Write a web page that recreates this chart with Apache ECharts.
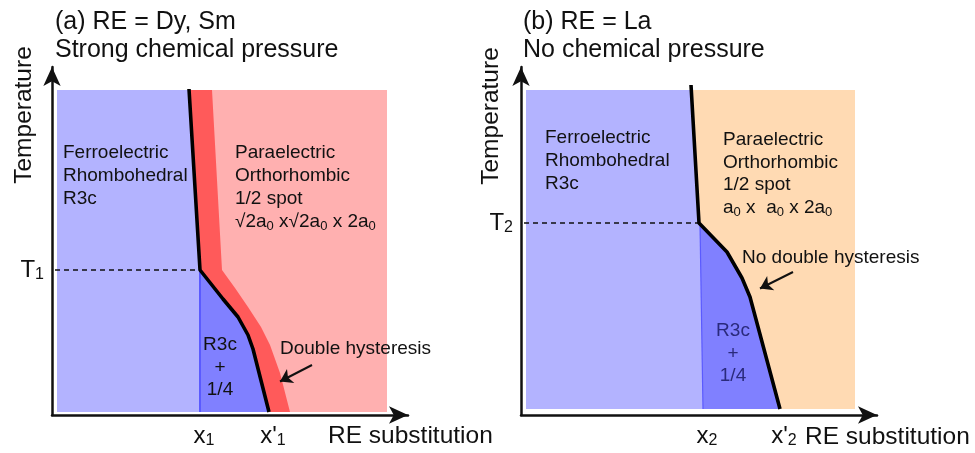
<!DOCTYPE html>
<html>
<head>
<meta charset="utf-8">
<script src="https://cdn.jsdelivr.net/npm/echarts@6/dist/echarts.min.js"></script>
<style>
  html, body { margin: 0; padding: 0; background: #fff; }
  #chart { width: 975px; height: 453px; }
</style>
</head>
<body>
<div id="chart"></div>
<script>
// Schematic phase diagrams: temperature vs. RE substitution (arbitrary units)

// (a) RE = Dy, Sm
const fieldA = { x0: 5, x1: 335, y0: 3, y1: 325 };
const boundaryA = [[137, 326], [148, 145], [171, 116], [186, 98], [196, 80], [201, 66], [217, 3]];
const bandEdgeA = [[160, 325], [170, 145], [183, 127], [196, 108], [209, 88], [218, 70], [228, 42], [238, 3]];
const tempA = 145;                       // T1
const xTicksA = [148, 217];              // x1, x'1
const xTickLabelsA = ['x|1', "x'|1"];
const yTicksA = [145];
const yTickLabelsA = ['T|1'];
const pointerA = [[260, 50], [228, 33.5]];

// (b) RE = La
const fieldB = { x0: 5, x1: 334, y0: 6, y1: 325 };
const boundaryB = [[170, 330], [178, 192], [206, 163], [221, 137], [229, 118], [259, 6]];
const mixedEdgeB = [[179, 192], [182, 6]];
const tempB = 192;                       // T2
const xTicksB = [182, 259];              // x2, x'2
const xTickLabelsB = ['x|2', "x'|2"];
const yTicksB = [192];
const yTickLabelsB = ['T|2'];
const pointerB = [[272, 143], [239, 126.5]];

const FONT = '"Liberation Sans", Arial, sans-serif';
const INK = '#111';
const C = {
  ferro: '#b3b3ff',
  mixed: '#8080ff',
  mixedEdge: '#5a5aff',
  band: '#ff5a5a',
  paraA: '#ffb0b0',
  paraB: '#ffdab3'
};

// x of a polyline at a given y (linear interpolation)
function xAt(line, y) {
  for (let i = 0; i < line.length - 1; i++) {
    const [xa, ya] = line[i], [xb, yb] = line[i + 1];
    if ((y - ya) * (y - yb) <= 0 && ya !== yb) return xa + (xb - xa) * (y - ya) / (yb - ya);
  }
  return line[0][0];
}
// part of a polyline below yTop, starting at its crossing with yTop
function below(line, yTop) {
  return [[xAt(line, yTop), yTop], ...line.filter(p => p[1] < yTop)];
}

function polygon(idx, pts, color, z) {
  return {
    type: 'custom', xAxisIndex: idx, yAxisIndex: idx, z: z, silent: true,
    data: [[0, 0]],
    renderItem: (params, api) => ({
      type: 'polygon',
      shape: { points: pts.map(p => api.coord(p)) },
      style: { fill: color }
    })
  };
}
function line(idx, pts, style, z, extra) {
  return Object.assign({
    type: 'line', xAxisIndex: idx, yAxisIndex: idx, z: z, silent: true,
    data: pts, symbol: 'none', lineStyle: style
  }, extra || {});
}
function pointer(pts) {
  return {
    silent: true, symbol: ['none', 'arrow'], symbolSize: 12,
    label: { show: false },
    lineStyle: { color: INK, width: 2, type: 'solid' },
    data: [[{ coord: pts[0] }, { coord: pts[1] }]]
  };
}

// Panel (a) regions
const topA = below(boundaryA, fieldA.y1);
const ferroA = [[fieldA.x0, fieldA.y0], [fieldA.x0, fieldA.y1], ...topA];
const paraA = [...topA, [fieldA.x1, fieldA.y0], [fieldA.x1, fieldA.y1]];
const bandA = [...topA, ...below(bandEdgeA, fieldA.y1).slice().reverse()];
const lowA = boundaryA.filter(p => p[1] <= tempA);
const mixedA = [[lowA[0][0], fieldA.y0], ...lowA.slice().reverse()];

// Panel (b) regions
const topB = below(boundaryB, fieldB.y1);
const ferroB = [[fieldB.x0, fieldB.y0], [fieldB.x0, fieldB.y1], ...topB];
const paraB = [...topB, [fieldB.x1, fieldB.y0], [fieldB.x1, fieldB.y1]];
const lowB = boundaryB.filter(p => p[1] <= tempB);
const mixedB = [...mixedEdgeB, ...lowB.slice().reverse()];

const richTick = {
  m: { fontSize: 24, color: INK, fontFamily: FONT, lineHeight: 26 },
  s: { fontSize: 16, color: INK, fontFamily: FONT, verticalAlign: 'bottom', lineHeight: 14 }
};
function tickFormatter(values, labels) {
  return v => {
    const i = values.indexOf(v);
    if (i < 0) return '';
    const [main, sub] = labels[i].split('|');
    return '{m|' + main + '}{s|' + sub + '}';
  };
}
function xAxis(idx, values, labels) {
  return {
    gridIndex: idx, type: 'value', min: 0, max: 356,
    axisLine: { show: true, onZero: false, symbol: ['none', 'arrow'], symbolSize: [13, 19],
      lineStyle: { color: INK, width: 2.5 } },
    axisTick: { show: false }, splitLine: { show: false },
    axisLabel: { customValues: values, formatter: tickFormatter(values, labels), rich: richTick,
      margin: 8, padding: [0, 0, 0, 8] }
  };
}
function yAxis(idx, values, labels) {
  return {
    gridIndex: idx, type: 'value', min: 0, max: 348,
    axisLine: { show: true, onZero: false, symbol: ['none', 'arrow'], symbolSize: [13, 19],
      lineStyle: { color: INK, width: 2.5 } },
    axisTick: { show: false }, splitLine: { show: false },
    axisLabel: { customValues: values, formatter: tickFormatter(values, labels), rich: richTick,
      margin: 8 }
  };
}

function text(x, y, str, opts) {
  return {
    type: 'text', x: x, y: y, z: 20, silent: true,
    rotation: (opts && opts.rotation) || 0,
    style: Object.assign({
      text: str, fill: INK, fontSize: 19, fontFamily: FONT,
      align: 'left', verticalAlign: 'top', lineHeight: 23
    }, (opts && opts.style) || {})
  };
}
const subRich = { s: { fontSize: 13, fontFamily: FONT, fill: INK, verticalAlign: 'bottom', lineHeight: 12 } };

const option = {
  animation: false,
  backgroundColor: '#fff',
  grid: [
    { left: 52, top: 67, width: 356, height: 348 },
    { left: 521, top: 67, width: 356, height: 348 }
  ],
  xAxis: [xAxis(0, xTicksA, xTickLabelsA), xAxis(1, xTicksB, xTickLabelsB)],
  yAxis: [yAxis(0, yTicksA, yTickLabelsA), yAxis(1, yTicksB, yTickLabelsB)],
  series: [
    polygon(0, ferroA, C.ferro, 1),
    polygon(0, paraA, C.paraA, 1),
    polygon(0, bandA, C.band, 2),
    polygon(0, mixedA, C.mixed, 3),
    line(0, [[lowA[0][0], tempA], [lowA[0][0], fieldA.y0]], { color: C.mixedEdge, width: 2 }, 4),
    line(0, [[fieldA.x0 - 2, tempA], [lowA[0][0], tempA]], { color: INK, width: 1.6, type: [5, 4] }, 4),
    line(0, boundaryA, { color: '#000', width: 3.6, join: 'round' }, 5, { markLine: pointer(pointerA) }),

    polygon(1, ferroB, C.ferro, 1),
    polygon(1, paraB, C.paraB, 1),
    polygon(1, mixedB, C.mixed, 3),
    line(1, mixedEdgeB, { color: C.mixedEdge, width: 1.2 }, 4),
    line(1, [[fieldB.x0 - 2, tempB], [lowB[0][0], tempB]], { color: INK, width: 1.6, type: [5, 4] }, 4),
    line(1, boundaryB, { color: '#000', width: 3.6, join: 'round' }, 5, { markLine: pointer(pointerB) })
  ],
  graphic: [
    text(55, 8, '(a) RE = Dy, Sm\nStrong chemical pressure', { style: { fontSize: 25, lineHeight: 28 } }),
    text(523, 8, '(b) RE = La\nNo chemical pressure', { style: { fontSize: 25, lineHeight: 28 } }),
    text(24, 115, 'Temperature', { rotation: Math.PI / 2, style: { fontSize: 24.5, align: 'center', verticalAlign: 'middle' } }),
    text(491, 116, 'Temperature', { rotation: Math.PI / 2, style: { fontSize: 24.5, align: 'center', verticalAlign: 'middle' } }),
    text(328, 436, 'RE substitution', { style: { fontSize: 24.5, verticalAlign: 'middle' } }),
    text(805, 437, 'RE substitution', { style: { fontSize: 24.5, verticalAlign: 'middle' } }),

    text(63, 141, 'Ferroelectric\nRhombohedral\nR3c'),
    text(235, 141, 'Paraelectric\nOrthorhombic\n1/2 spot\n√2a{s|0} x√2a{s|0} x 2a{s|0}', { style: { rich: subRich } }),
    text(220, 334, 'R3c\n+\n1/4', { style: { align: 'center', lineHeight: 22.5 } }),
    text(280, 349, 'Double hysteresis', { style: { verticalAlign: 'middle' } }),

    text(545, 126, 'Ferroelectric\nRhombohedral\nR3c'),
    text(723, 129, 'Paraelectric\nOrthorhombic\n1/2 spot\na{s|0} x  a{s|0} x 2a{s|0}', { style: { rich: subRich, lineHeight: 22.5 } }),
    text(733, 320, 'R3c\n+\n1/4', { style: { align: 'center', lineHeight: 22.5, fill: '#2a2a7c' } }),
    text(742, 258, 'No double hysteresis', { style: { verticalAlign: 'middle' } })
  ]
};

const chart = echarts.init(document.getElementById('chart'), null, { renderer: 'canvas' });
chart.setOption(option);
</script>
</body>
</html>
